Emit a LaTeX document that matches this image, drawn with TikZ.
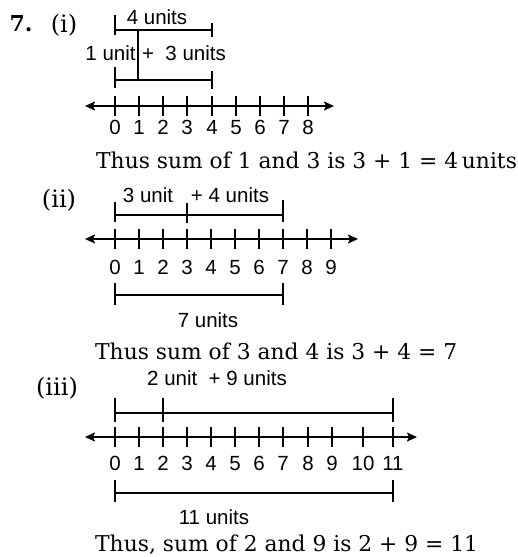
\documentclass[tikz,border=0pt]{standalone}
\usepackage{fontspec}
\setmainfont{DejaVu Serif}
\setsansfont{Liberation Sans}
\usetikzlibrary{arrows.meta}
\begin{document}
\begin{tikzpicture}[x=1pt,y=-1pt,
  ln/.style={line width=1.8pt},
  nl/.style={line width=1.8pt,{Stealth[length=10pt,width=9pt,inset=2pt]}-{Stealth[length=10pt,width=9pt,inset=2pt]}},
  lab/.style={font=\sffamily\fontsize{20.5}{20.5}\selectfont, inner sep=0pt},
  num/.style={lab, anchor=base},
  txt/.style={font=\fontsize{21.8}{21.8}\selectfont, inner sep=0pt, anchor=west},
  hd/.style={font=\fontsize{24}{24}\selectfont, inner sep=0pt},
]
\useasboundingbox (0,0) rectangle (518,557);
% ---------- (i)
\node[hd,font=\bfseries\fontsize{22}{22}\selectfont] (seven) at (21,24) {7.};
\node[hd] (pi) at (64,25) {(i)};
\coordinate (t1a) at (115,15); \coordinate (t1b) at (115,35);
\coordinate (t1c) at (212,23); \coordinate (t1d) at (212,37);
\coordinate (t1m) at (115,30); \coordinate (t1n) at (212,30);
\draw[ln] (t1a) -- (t1b); \draw[ln] (t1c) -- (t1d); \draw[ln] (t1m) -- (t1n);
\coordinate (v1a) at (138,30); \coordinate (v1b) at (138,80);
\draw[ln] (v1a) -- (v1b);
\node[lab] (l4u) at (157,17) {4 units};
\node[lab] (l1u) at (110.5,53) {1 unit};
\node[lab] (l3u) at (184,53) {+\ \ 3 units};
\coordinate (b1a) at (115,67); \coordinate (b1b) at (115,88);
\coordinate (b1c) at (212,71); \coordinate (b1d) at (212,89);
\coordinate (b1m) at (115,80); \coordinate (b1n) at (212,80);
\draw[ln] (b1a) -- (b1b); \draw[ln] (b1c) -- (b1d); \draw[ln] (b1m) -- (b1n);
\coordinate (aL) at (85,106); \coordinate (aR) at (334,106);
\draw[nl] (aL) -- (aR);
\foreach \k/\xx in {0/115,1/139,2/163,3/187,4/212,5/236,6/260,7/284,8/308} {
  \coordinate (a\k) at (\xx,106);
  \draw[ln] ([yshift=-10pt]a\k) -- ([yshift=10pt]a\k);
  \node[num] (an\k) at (\xx,134) {\k};
}
\node[txt] (s1) at (96,160) {Thus sum of 1 and 3 is 3 + 1 = 4\,units};
% ---------- (ii)
\node[hd] (pii) at (59,200) {(ii)};
\coordinate (t2a) at (115,202); \coordinate (t2b) at (115,222);
\coordinate (t2c) at (187,203); \coordinate (t2d) at (187,223);
\coordinate (t2e) at (283,200); \coordinate (t2f) at (283,222);
\coordinate (t2m) at (115,215); \coordinate (t2n) at (283,215);
\draw[ln] (t2a) -- (t2b); \draw[ln] (t2c) -- (t2d); \draw[ln] (t2e) -- (t2f); \draw[ln] (t2m) -- (t2n);
\node[lab] (l3) at (148,195) {3 unit};
\node[lab] (l4) at (230,195) {+ 4 units};
\coordinate (bL) at (85,239); \coordinate (bR) at (358,239);
\draw[nl] (bL) -- (bR);
\foreach \k/\xx in {0/115,1/139,2/163,3/187,4/211,5/235,6/259,7/283,8/307,9/331} {
  \coordinate (b\k) at (\xx,239);
  \draw[ln] ([yshift=-10pt]b\k) -- ([yshift=10pt]b\k);
  \node[num] (bn\k) at (\xx,274) {\k};
}
\coordinate (u2a) at (115,283); \coordinate (u2b) at (115,305);
\coordinate (u2c) at (283,283); \coordinate (u2d) at (283,305);
\coordinate (u2m) at (115,295); \coordinate (u2n) at (283,295);
\draw[ln] (u2a) -- (u2b); \draw[ln] (u2c) -- (u2d); \draw[ln] (u2m) -- (u2n);
\node[lab] (l7) at (208,320) {7 units};
\node[txt] (s2) at (95,351) {Thus sum of 3 and 4 is 3 + 4 = 7};
% ---------- (iii)
\node[hd] (piii) at (57,388) {(iii)};
\node[lab] (l29) at (217,378) {2 unit\ \ + 9 units};
\coordinate (t3a) at (115,398); \coordinate (t3b) at (115,422);
\coordinate (t3c) at (163,398); \coordinate (t3d) at (163,422);
\coordinate (t3e) at (393,398); \coordinate (t3f) at (393,422);
\coordinate (t3m) at (115,413); \coordinate (t3n) at (393,413);
\draw[ln] (t3a) -- (t3b); \draw[ln] (t3c) -- (t3d); \draw[ln] (t3e) -- (t3f); \draw[ln] (t3m) -- (t3n);
\coordinate (cL) at (85,437); \coordinate (cR) at (417,437);
\draw[nl] (cL) -- (cR);
\foreach \k/\xx in {0/115,1/139,2/163,3/187,4/211,5/235,6/259,7/283,8/308,9/332,10/363,11/393} {
  \coordinate (c\k) at (\xx,437);
  \draw[ln] ([yshift=-10pt]c\k) -- ([yshift=10pt]c\k);
  \node[num] (cn\k) at (\xx,470) {\k};
}
\coordinate (u3a) at (115,480); \coordinate (u3b) at (115,502);
\coordinate (u3c) at (393,480); \coordinate (u3d) at (393,502);
\coordinate (u3m) at (115,493); \coordinate (u3n) at (393,493);
\draw[ln] (u3a) -- (u3b); \draw[ln] (u3c) -- (u3d); \draw[ln] (u3m) -- (u3n);
\node[lab] (l11) at (214,517) {11 units};
\node[txt] (s3) at (95,545) {Thus, sum of 2 and 9 is 2 + 9 = 11};
\end{tikzpicture}
\end{document}
